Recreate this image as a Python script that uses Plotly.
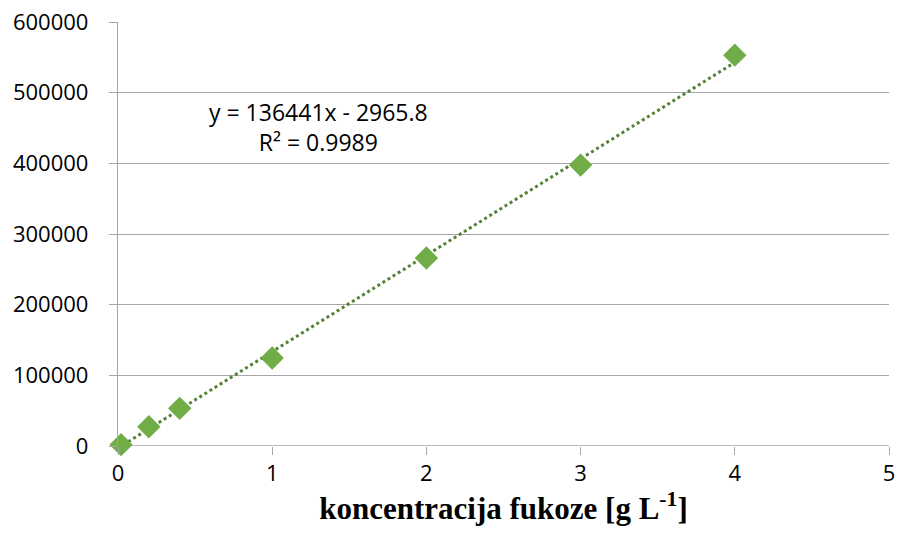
import plotly.graph_objects as go

conc = [0.02, 0.2, 0.4, 1, 2, 3, 4]
area = [1900, 27300, 53300, 124500, 266000, 397500, 553100]
slope = 136441
intercept = -2965.8
r2 = 0.9989
fit_x = [0, 4]
fit_y = [slope * x + intercept for x in fit_x]

fig = go.Figure()
fig.add_trace(go.Scatter(x=fit_x, y=fit_y, mode="lines",
                         line=dict(color="#548235", width=3, dash="dot"),
                         hoverinfo="skip", showlegend=False))
fig.add_trace(go.Scatter(x=conc, y=area, mode="markers",
                         marker=dict(symbol="diamond", size=18, color="#70AD47"),
                         showlegend=False, cliponaxis=False))
fig.add_annotation(x=1.3, y=451000, xref="x", yref="y",
                   text=f"y = {slope}x - {abs(intercept)}<br>R² = {r2}",
                   showarrow=False, align="center",
                   font=dict(family="Open Sans, Liberation Sans", size=23, color="#000"))
fig.update_layout(
    width=899, height=545,
    margin=dict(l=118, r=10, t=22, b=99),
    paper_bgcolor="white", plot_bgcolor="white",
    font=dict(family="Open Sans, Liberation Sans", size=22, color="#000"),
    xaxis=dict(range=[0, 5], tickvals=[0, 1, 2, 3, 4, 5], showgrid=False,
               zeroline=False, showline=False, ticks="outside", ticklen=8,
               tickcolor="#a6a6a6", tickwidth=1.3, ticklabelstandoff=0, automargin=False,
               title=dict(text="<b>koncentracija fukoze [g L<sup>-1</sup>]</b>",
                          font=dict(family="Liberation Serif", size=31), standoff=8)),
    yaxis=dict(range=[0, 600000], tickvals=list(range(0, 600001, 100000)),
               tickformat="d", showgrid=True, gridcolor="#a6a6a6", gridwidth=1.3,
               zeroline=False, showline=True, linecolor="#a6a6a6", linewidth=1.3,
               ticks="outside", ticklen=8, tickcolor="#a6a6a6", tickwidth=1.3,
               ticklabelstandoff=16, automargin=False),
)
fig.add_shape(type="line", xref="paper", yref="y", x0=0, x1=1, y0=0, y1=0,
              line=dict(color="#a6a6a6", width=1.3), layer="below")
fig.write_html("out.html", config={"displayModeBar": False},
               post_script="document.body.style.margin='0';document.body.style.overflow='hidden';")
